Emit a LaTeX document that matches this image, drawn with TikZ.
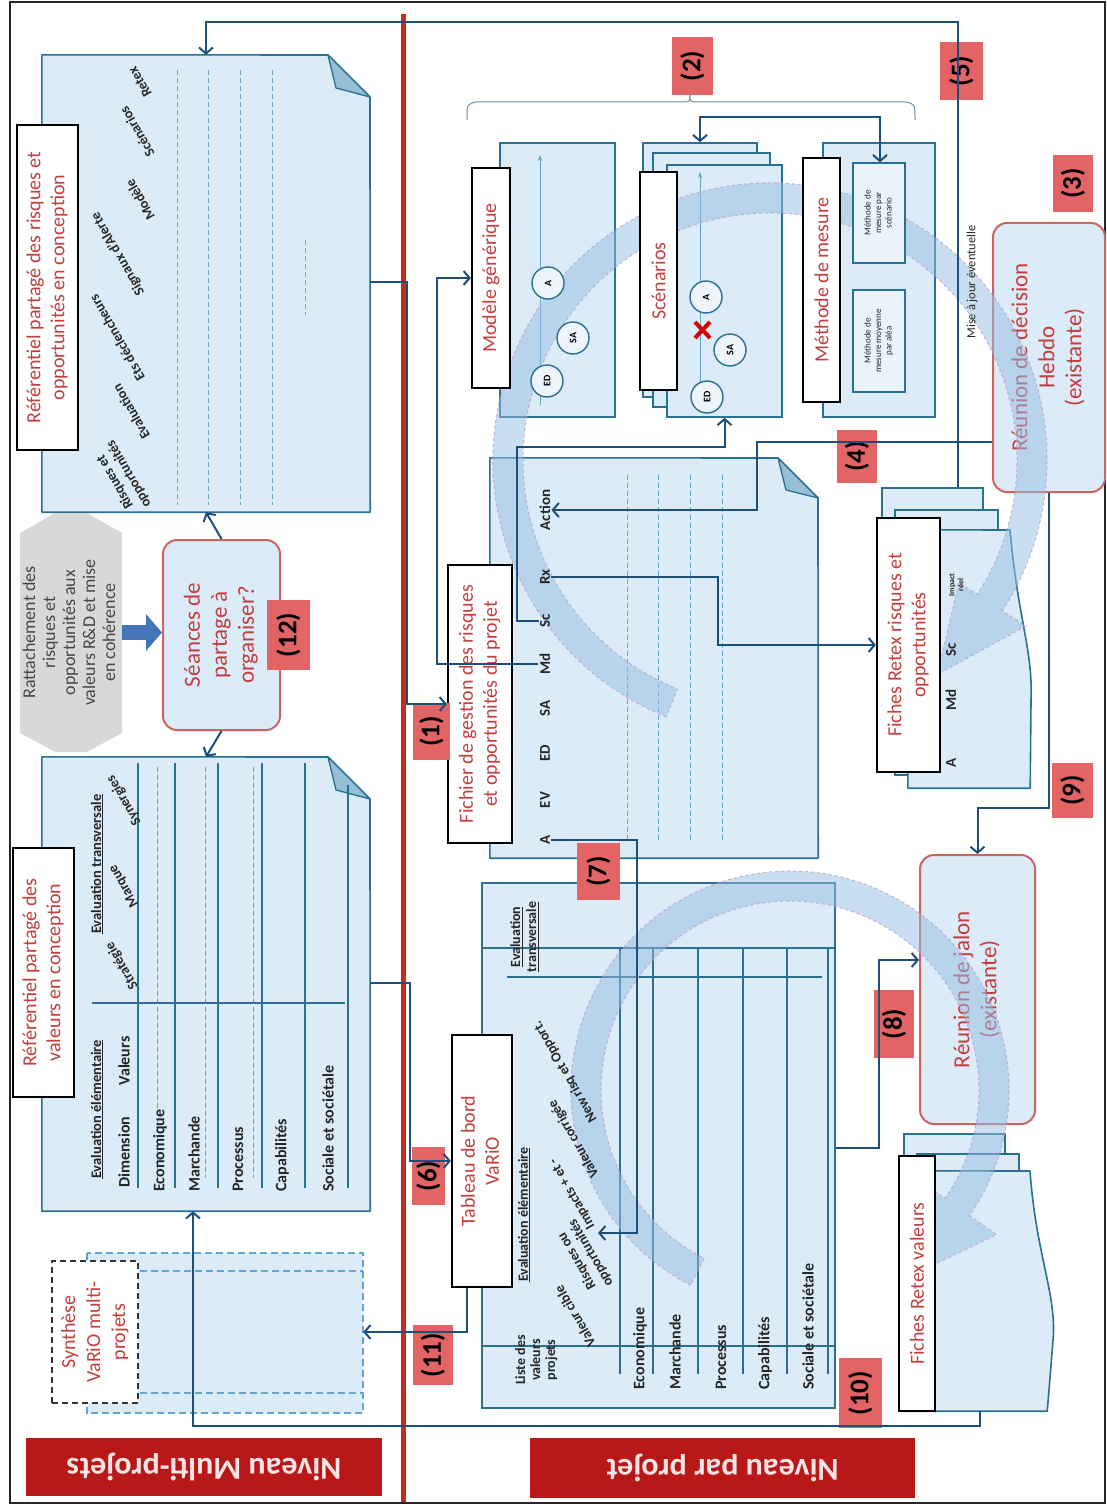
\documentclass[tikz,border=0pt]{standalone}
\usepackage{fontspec}
\setmainfont{Carlito}
\usepackage{graphicx}
\usetikzlibrary{arrows.meta,calc}
\definecolor{lb}{RGB}{219,235,247}
\definecolor{foldc}{RGB}{150,190,215}
\definecolor{docb}{RGB}{42,112,145}
\definecolor{cnb}{RGB}{30,78,122}
\definecolor{rtx}{RGB}{196,62,62}
\definecolor{rbd}{RGB}{205,100,100}
\definecolor{nred}{RGB}{226,100,100}
\definecolor{redline}{RGB}{200,42,32}
\definecolor{niv}{RGB}{184,24,24}
\definecolor{nivtxt}{RGB}{250,228,228}
\definecolor{hexg}{RGB}{216,216,216}
\definecolor{fatblue}{RGB}{68,116,186}
\definecolor{dashc}{RGB}{100,165,205}
\definecolor{bandc}{RGB}{150,190,228}
\definecolor{bandd}{RGB}{190,150,190}
\definecolor{brk}{RGB}{110,140,170}
\newcommand{\rtxt}[1]{\rotatebox{90}{\begin{tabular}{@{}c@{}}#1\end{tabular}}}
\newcommand{\boxat}[6]{\node[#2,minimum width={(#5-#3)*1pt},minimum height={(#6-#4)*1pt}] (#1) at ({(#3+#5)/2},{(#4+#6)/2})}
\newcommand{\fs}[2]{\fontsize{#1}{#2}\selectfont}
\tikzset{
  ghost/.style={inner sep=0pt,draw=none},
  docsh/.style={fill=lb,draw=docb,line width=1.6pt,line join=round},
  sheet/.style={fill=lb,draw=docb,line width=1.6pt,inner sep=0pt},
  foldsh/.style={fill=foldc,draw=docb,line width=1.3pt,line join=round},
  ttl/.style={draw=black,line width=2.2pt,fill=white,text=rtx,inner sep=0pt,font=\fs{20}{24}},
  rbox/.style={draw=rbd,fill=lb,line width=2pt,rounded corners=14pt,text=rtx,inner sep=0pt,font=\fs{23}{27}},
  numlab/.style={fill=nred,inner sep=0pt,text=black,font=\bfseries\fs{27}{28}},
  nivlab/.style={fill=niv,inner sep=0pt,text=nivtxt,font=\bfseries\fs{32}{34}},
  conn/.style={draw=cnb,line width=2pt,-{Straight Barb[length=6pt,width=14pt]}},
  biconn/.style={draw=cnb,line width=2pt,{Straight Barb[length=6pt,width=14pt]}-{Straight Barb[length=6pt,width=14pt]}},
  hdr/.style={inner sep=1pt,text=black!85,font=\bfseries\fs{15}{17}},
  rowlab/.style={inner sep=0pt,text=black!85,font=\bfseries\fs{16}{18}},
  diag/.style={rotate=120,inner sep=0pt,text=black!85,align=center,font=\bfseries\fs{14}{16}},
  tline/.style={draw=docb,line width=1.4pt},
  dline/.style={draw=dashc,line width=1pt,dash pattern=on 5pt off 3pt},
  circ/.style={circle,draw=docb,line width=1.4pt,fill=white!50!lb,minimum size=32pt,inner sep=0pt,font=\bfseries\fs{10}{10}},
  inarrow/.style={draw=dashc,line width=1pt,-{Stealth[length=6pt]}},
  band/.style={fill=bandc,fill opacity=0.5,draw=bandd,draw opacity=0.7,dashed,line width=1pt},
  smallbox/.style={draw=docb,line width=1.4pt,fill=white!40!lb,inner sep=0pt,font=\fs{9}{10.5},text=black!85},
}
\begin{document}
\begin{tikzpicture}[x=1pt,y=-1pt]
\useasboundingbox (0,0) rectangle (1107,1506);
\fill[white] (0,0) rectangle (1107,1506);
\draw[line width=1.6pt,black!85] (10,2) rectangle (1105,1503);
\draw[line width=5pt,redline] (403,14) -- (403,1502);

% ---------- risk referential
\boxat{riskdoc}{ghost}{42}{55}{370}{512}{};
\draw[docsh] (riskdoc.north west) -- (328,55) -- (370,97) -- (riskdoc.south east) -- (riskdoc.south west) -- cycle;
\draw[foldsh] (328,55) -- (336,88) -- (370,97) -- cycle;
\foreach \xx in {177,208,240,272} \draw[dline] (\xx,70) -- (\xx,505);
\draw[dline] (305,240) -- (305,315);

% ---------- gray hexagon
\fill[hexg] (20,533) -- (55,513) -- (87,513) -- (122,533) -- (122,733) -- (87,752) -- (55,752) -- (20,733) -- cycle;
\boxat{hex}{ghost,text=black!72,font=\fs{18}{20}}{20}{513}{122}{752}{\rtxt{Rattachement des\\risques et\\opportunités aux\\valeurs R\&D et mise\\en cohérence}};

% ---------- value referential
\boxat{valdoc}{ghost}{42}{757}{370}{1211}{};
\draw[docsh] (valdoc.north west) -- (328,757) -- (370,799) -- (valdoc.south east) -- (valdoc.south west) -- cycle;
\draw[foldsh] (328,757) -- (336,790) -- (370,799) -- cycle;
\foreach \xx in {157,205,253} \draw[dline] (\xx,767) -- (\xx,1178);
\foreach \xx in {138,175,218,262,305} \draw[tline] (\xx,763) -- (\xx,1188);
\draw[tline] (348,785) -- (348,1188);
\draw[tline] (92,1003) -- (345,1003);

% ---------- synthese
\boxat{synthstack}{ghost}{87}{1253}{363}{1413}{};
\draw[fill=lb,draw=dashc,line width=1.5pt,dash pattern=on 7pt off 4pt] (synthstack.north west) rectangle (synthstack.south east);
\draw[draw=dashc,line width=1.5pt,dash pattern=on 7pt off 4pt] (140,1271) -- (363,1271) (140,1393) -- (363,1393);

% ---------- fichier doc
\boxat{fdoc}{ghost}{490}{458}{818}{858}{};
\draw[docsh] (fdoc.north west) -- (778,458) -- (818,498) -- (fdoc.south east) -- (fdoc.south west) -- cycle;
\draw[foldsh] (778,458) -- (786,490) -- (818,498) -- cycle;
\foreach \xx in {627,658,690,722} \draw[dline] (\xx,475) -- (\xx,842);

% ---------- modele / scenarios / methode
\boxat{moddoc}{sheet}{500}{143}{615}{417}{};
\draw[inarrow] (540,405) -- (540,155);
\boxat{sc1}{sheet}{643}{143}{757}{397}{};
\boxat{sc2}{sheet}{653}{153}{770}{407}{};
\boxat{scf}{sheet}{667}{165}{782}{417}{};
\draw[inarrow] (700,405) -- (700,172);
\boxat{mdoc}{sheet}{823}{143}{935}{417}{};
\draw[brk,line width=1pt] (467,120) .. controls (467,104) .. (476,102) -- (681,102) .. controls (690,102) .. (690,94) .. controls (690,102) .. (699,102) -- (906,102) .. controls (915,104) .. (915,120);

% ---------- retex risques stack
\boxat{fr3}{sheet}{882}{488}{983}{760}{};
\boxat{fr2}{sheet}{895}{510}{998}{775}{};
\boxat{fr1}{ghost}{908}{530}{1030}{788}{};
\draw[docsh] (fr1.north west) -- (1010,530) .. controls (1018,620) and (1033,650) .. (1031,700) -- (fr1.south east) -- (fr1.south west) -- cycle;

% ---------- tableau doc
\boxat{tabdoc}{sheet}{482}{883}{835}{1408}{};
\draw[tline] (482,948) -- (835,948);
\draw[tline] (507,977) -- (822,977);
\draw[tline] (482,1346) -- (835,1346);
\foreach \xx in {620,653,698,743,787,828} \draw[tline] (\xx,948) -- (\xx,1374);

% ---------- retex valeurs stack
\boxat{fv3}{sheet}{904}{1134}{1005}{1380}{};
\boxat{fv2}{sheet}{917}{1154}{1019}{1395}{};
\boxat{fv1}{ghost}{900}{1171}{1047}{1411}{};
\draw[docsh] (fv1.north west) -- (1030,1171) .. controls (1036,1255) and (1057,1295) .. (1053,1340) .. controls (1050,1378) .. (fv1.south east) -- (fv1.south west) -- cycle;

% ---------- rounded boxes
\boxat{seances}{rbox}{163}{540}{280}{730}{\rtxt{Séances de\\partage à\\organiser?}};
\boxat{hebdo}{rbox}{993}{223}{1105}{492}{\rtxt{Réunion de décision\\Hebdo\\(existante)}};
\boxat{jalon}{rbox}{920}{855}{1035}{1124}{\rtxt{Réunion de jalon\\(existante)}};

% ---------- circular bands
\path[band] ([shift={(770,460)}]112:277) arc[start angle=112,end angle=393,radius=277] -- ([shift={(770,460)}]393:305) -- ([shift={(770,460)}]412:272) -- ([shift={(770,460)}]393:225) -- ([shift={(770,460)}]393:247) arc[start angle=393,end angle=112,radius=247] -- cycle;
\path[band] ([shift={(790,1090)}]117:219) arc[start angle=117,end angle=395,radius=219] -- ([shift={(790,1090)}]395:252) -- ([shift={(790,1090)}]412:225) -- ([shift={(790,1090)}]395:172) -- ([shift={(790,1090)}]395:189) arc[start angle=395,end angle=117,radius=189] -- cycle;

% ---------- texts in risk referential
\node[diag] (hRetex) at (140,82) {Retex};
\node[diag] (hScen) at (137,132) {Scénarios};
\node[diag] (hMod) at (140,200) {Modèle};
\node[diag] (hSig) at (118,254) {Signaux d'Alerte};
\node[diag] (hEts) at (117,338) {Ets déclencheurs};
\node[diag] (hEval) at (131,412) {Evaluation};
\node[diag] (hRO) at (122,478) {Risques et\\opportunités};
\boxat{risktitle}{ttl}{17}{125}{78}{450}{\rtxt{Référentiel partagé des risques et\\opportunités en conception}};

% ---------- texts in value referential
\node[hdr,font=\bfseries\fs{14.5}{16},anchor=south] (vEE) at (97,1180) {\rotatebox{90}{\underline{Evaluation élémentaire}}};
\node[hdr,font=\bfseries\fs{14.5}{16}] (vET) at (97,864) {\rotatebox{90}{\underline{Evaluation transversale}}};
\node[rowlab,anchor=south] (vDim) at (124,1188) {\rotatebox{90}{Dimension}};
\node[rowlab] (vVal) at (124,1061) {\rotatebox{90}{Valeurs}};
\node[rowlab,anchor=south] (vEco) at (160,1192) {\rotatebox{90}{Economique}};
\node[rowlab,anchor=south] (vMar) at (194,1192) {\rotatebox{90}{Marchande}};
\node[rowlab,anchor=south] (vPro) at (238,1192) {\rotatebox{90}{Processus}};
\node[rowlab,anchor=south] (vCap) at (282,1192) {\rotatebox{90}{Capabilités}};
\node[rowlab,anchor=south] (vSoc) at (328,1192) {\rotatebox{90}{Sociale et sociétale}};
\node[diag] (vStr) at (122,966) {Stratégie};
\node[diag] (vMq) at (124,886) {Marque};
\node[diag] (vSyn) at (124,800) {Synergies};
\boxat{valtitle}{ttl}{13}{848}{74}{1097}{\rtxt{Référentiel partagé des\\valeurs en conception}};

\boxat{synth}{draw=black!80,line width=1.6pt,dash pattern=on 6pt off 4pt,fill=white,text=rtx,inner sep=0pt,font=\fs{20}{25}}{52}{1261}{138}{1403}{\rtxt{Synthèse\\VaRiO multi-\\projets}};

% ---------- fichier texts
\node[hdr] (fA) at (545,840) {\rotatebox{90}{A}};
\node[hdr] (fEV) at (545,800) {\rotatebox{90}{EV}};
\node[hdr] (fED) at (545,753) {\rotatebox{90}{ED}};
\node[hdr] (fSA) at (545,708) {\rotatebox{90}{SA}};
\node[hdr] (fMd) at (545,664) {\rotatebox{90}{Md}};
\node[hdr] (fSc) at (545,621) {\rotatebox{90}{Sc}};
\node[hdr] (fRx) at (545,577) {\rotatebox{90}{Rx}};
\node[hdr] (fAct) at (545,510) {\rotatebox{90}{Action}};
\boxat{ftitle}{ttl}{448}{565}{512}{843}{\rtxt{Fichier de gestion des risques\\et opportunités du projet}};

% ---------- modele / scenarios / methode texts
\node[circ] (mA) at (548,283) {\rotatebox{90}{A}};
\node[circ] (mSA) at (573,338) {\rotatebox{90}{SA}};
\node[circ] (mED) at (547,381) {\rotatebox{90}{ED}};
\boxat{modbox}{ttl}{472}{168}{510}{388}{\rotatebox{90}{Modèle générique}};
\node[circ] (sA) at (706,297) {\rotatebox{90}{A}};
\node[circ] (sSA) at (730,350) {\rotatebox{90}{SA}};
\node[circ] (sED) at (707,397) {\rotatebox{90}{ED}};
\draw[red!85!black,line width=4pt] (695,322) -- (710,338) (695,338) -- (710,322);
\boxat{sctitle}{ttl}{640}{172}{677}{390}{\rotatebox{90}{Scénarios}};
\boxat{mps}{smallbox}{853}{163}{905}{263}{\rtxt{Méthode de\\mesure par\\scénario}};
\boxat{mpa}{smallbox}{853}{290}{905}{392}{\rtxt{Méthode de\\mesure moyenne\\par aléa}};
\boxat{mtitle}{ttl}{803}{158}{840}{402}{\rotatebox{90}{Méthode de mesure}};
\node[inner sep=0pt,font=\fs{12.5}{14},text=black!85] (maj) at (972,282) {\rotatebox{90}{Mise à jour éventuelle}};

% ---------- retex texts
\node[hdr] (rA) at (951,763) {\rotatebox{90}{A}};
\node[hdr] (rMd) at (951,700) {\rotatebox{90}{Md}};
\node[hdr] (rSc) at (951,650) {\rotatebox{90}{Sc}};
\node[inner sep=0pt,font=\bfseries\fs{8}{9},text=black!85] (rImp) at (957,585) {\rtxt{Impact\\réel}};
\boxat{frt}{ttl}{877}{518}{940}{772}{\rtxt{Fiches Retex risques et\\opportunités}};
\boxat{fvt}{ttl}{899}{1156}{935}{1411}{\rotatebox{90}{Fiches Retex valeurs}};

% ---------- tableau texts
\node[hdr,font=\bfseries\fs{14}{16}] (tET) at (525,937) {\rtxt{\underline{Evaluation}\\\underline{transversale}}};
\node[hdr,font=\bfseries\fs{14}{16},anchor=south] (tEE) at (524,1283) {\rotatebox{90}{\underline{Evaluation élémentaire}}};
\node[hdr,font=\bfseries\fs{14}{15}] (tListe) at (537,1360) {\rtxt{Liste des\\valeurs\\projets}};
\node[diag,anchor=west] (tNew) at (594,1122) {New risq et Opport.};
\node[diag,anchor=west] (tVc) at (596,1177) {Valeur corrigée};
\node[diag,anchor=west] (tImp) at (592,1228) {Impacts + et -};
\node[diag,anchor=west] (tRO) at (603,1290) {Risques ou\\opportunités};
\node[diag,anchor=west] (tVcib) at (592,1346) {Valeur cible};
\node[rowlab,anchor=south] (tEco) at (640,1390) {\rotatebox{90}{Economique}};
\node[rowlab,anchor=south] (tMar) at (675,1390) {\rotatebox{90}{Marchande}};
\node[rowlab,anchor=south] (tPro) at (721,1390) {\rotatebox{90}{Processus}};
\node[rowlab,anchor=south] (tCap) at (765,1390) {\rotatebox{90}{Capabilités}};
\node[rowlab,anchor=south] (tSoc) at (808,1390) {\rotatebox{90}{Sociale et sociétale}};
\boxat{tabbox}{ttl}{452}{1035}{512}{1287}{\rtxt{Tableau de bord\\VaRiO}};

% ---------- niveau labels
\boxat{nivmulti}{nivlab}{26}{1438}{382}{1496}{\rotatebox{180}{Niveau Multi-projets}};
\boxat{nivprojet}{nivlab}{530}{1438}{915}{1498}{\rotatebox{180}{Niveau par projet}};

% ---------- number labels
\boxat{n1}{numlab}{413}{703}{450}{760}{\rotatebox{90}{(1)}};
\boxat{n2}{numlab}{672}{37}{713}{95}{\rotatebox{90}{(2)}};
\boxat{n3}{numlab}{1053}{155}{1093}{212}{\rotatebox{90}{(3)}};
\boxat{n4}{numlab}{837}{430}{877}{483}{\rotatebox{90}{(4)}};
\boxat{n5}{numlab}{940}{42}{983}{100}{\rotatebox{90}{(5)}};
\boxat{n6}{numlab}{412}{1147}{445}{1205}{\rotatebox{90}{(6)}};
\boxat{n7}{numlab}{577}{843}{620}{900}{\rotatebox{90}{(7)}};
\boxat{n8}{numlab}{874}{990}{914}{1058}{\rotatebox{90}{(8)}};
\boxat{n9}{numlab}{1052}{763}{1093}{818}{\rotatebox{90}{(9)}};
\boxat{n10}{numlab}{839}{1358}{882}{1428}{\rotatebox{90}{(10)}};
\boxat{n11}{numlab}{413}{1325}{453}{1385}{\rotatebox{90}{(11)}};
\boxat{n12}{numlab}{267}{600}{310}{670}{\rotatebox{90}{(12)}};

% ---------- connectors
\coordinate (ev7) at (598,1233);
\draw[line width=15pt,fatblue,-{Triangle[length=16pt,width=36pt]}] (hex.east) -- (hex.east -| seances.west);
\draw[conn] (seances.north) -- (riskdoc.south);
\draw[conn] (seances.south) -- (valdoc.north);
\draw[conn] (958,0 |- fr3.north) -- (958,22) -| (riskdoc.north);
\draw[conn] (riskdoc.east |- 0,282) -- (407,282) |- (ftitle.west);
\draw[conn] (fMd.west) -- (437,0 |- fMd.west) |- (modbox.west);
\draw[conn] (fSc.west) -- (517,0 |- fSc.west) -- (517,447) -| (scf.south);
\draw[biconn] (700,0 |- sc1.north) -- (700,117) -- (880,117) -- (880,0 |- mps.north);
\draw[conn] (fRx.east) -- (718,0 |- fRx.east) |- (frt.west);
\draw[conn] (hebdo.west |- 0,442) -- (757,442) |- (fAct.east);
\draw[conn] (fA.east) -- (637,0 |- fA.east) -- (637,1233) -- (ev7);
\draw[conn] (valdoc.east |- 0,983) -- (410,983) |- (tabbox.west);
\draw[conn] (tabdoc.east |- 0,1148) -- (879,1148) |- (jalon.west |- 0,960);
\draw[conn] (hebdo.south) -- (1049,808) -| (jalon.north);
\draw[conn] (980,0 |- fv1.south) -- (980,1426) -- (193,1426) -- (193,0 |- valdoc.south);
\draw[conn] (467,0 |- tabbox.south) -- (467,1332) -- (synthstack.east |- 0,1332);
\end{tikzpicture}
\end{document}
